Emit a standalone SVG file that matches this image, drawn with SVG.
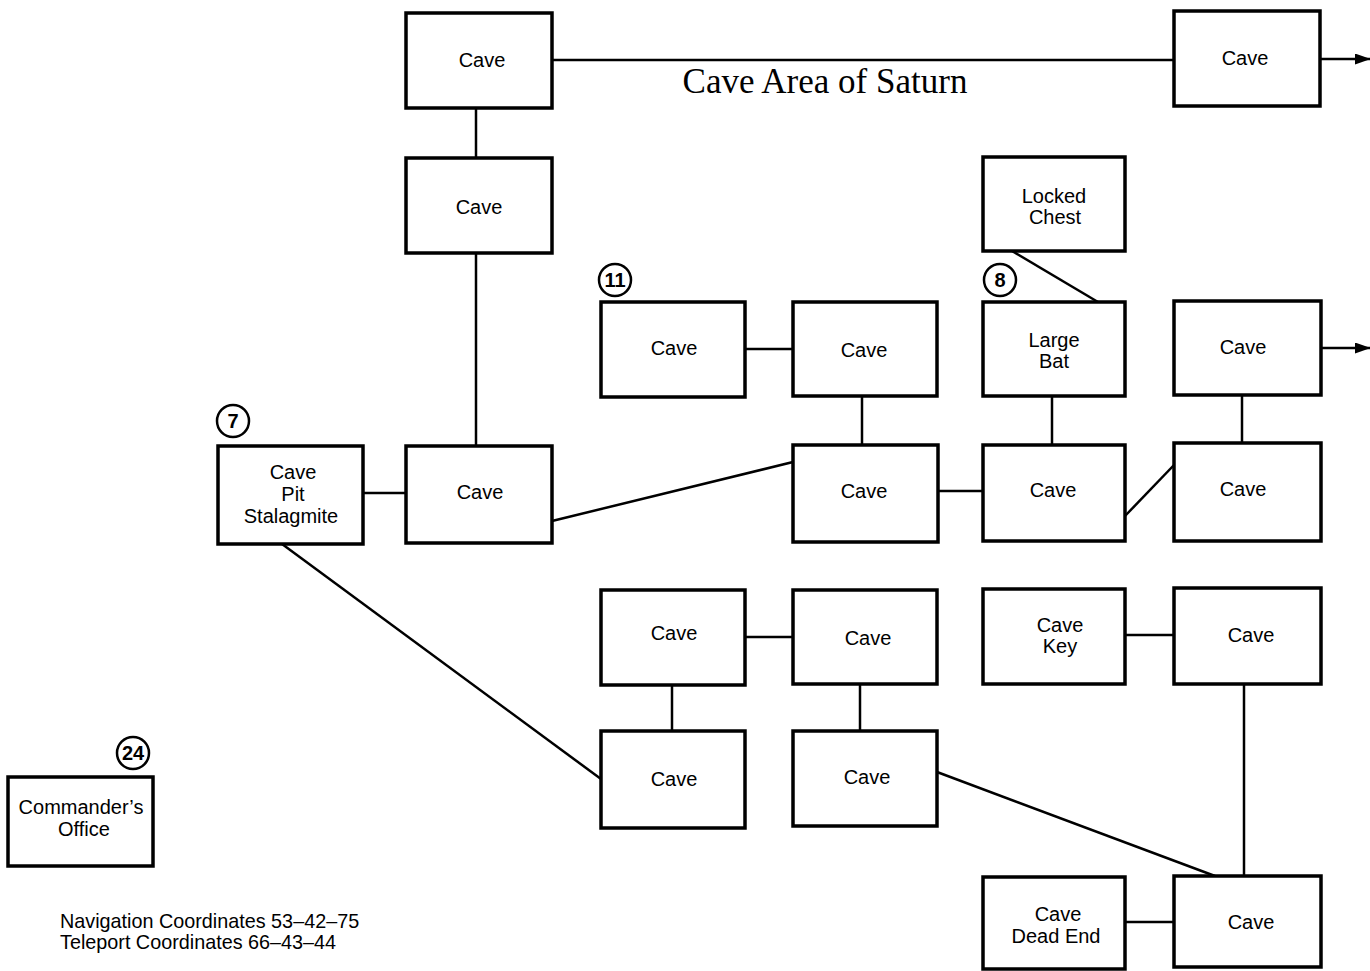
<svg xmlns="http://www.w3.org/2000/svg" width="1370" height="971" viewBox="0 0 1370 971">
<style>
.box{fill:#fff;stroke:#000;stroke-width:3.5}
.lbl{font-family:"Liberation Sans",Arial,sans-serif;font-size:20px;fill:#000;text-anchor:middle}
.con{stroke:#000;stroke-width:2.5;fill:none}
.num{fill:#fff;stroke:#000;stroke-width:2.5}
.numt{font-family:"Liberation Sans",Arial,sans-serif;font-size:20px;font-weight:bold;fill:#000;text-anchor:middle}
.foot{font-family:"Liberation Sans",Arial,sans-serif;font-size:19.8px;fill:#000}
</style>
<defs>
<marker id="arr" markerWidth="16" markerHeight="11" refX="15" refY="5.5" orient="auto" markerUnits="userSpaceOnUse" viewBox="0 0 16 11">
<path d="M0,0 L16,5.5 L0,11 z" fill="#000"/>
</marker>
</defs>
<rect width="1370" height="971" fill="#fff"/>
<g id="connectors">
<line class="con" x1="552" y1="60" x2="1174" y2="60"/>
<line class="con" x1="1320" y1="59" x2="1370" y2="59" marker-end="url(#arr)"/>
<line class="con" x1="1321" y1="348" x2="1370" y2="348" marker-end="url(#arr)"/>
<line class="con" x1="476" y1="108" x2="476" y2="158"/>
<line class="con" x1="476" y1="253" x2="476" y2="446"/>
<line class="con" x1="363" y1="493" x2="406" y2="493"/>
<line class="con" x1="552" y1="521" x2="793" y2="462"/>
<line class="con" x1="745" y1="349" x2="793" y2="349"/>
<line class="con" x1="862" y1="396" x2="862" y2="445"/>
<line class="con" x1="938" y1="491" x2="983" y2="491"/>
<line class="con" x1="1012" y1="251" x2="1098" y2="302"/>
<line class="con" x1="1052" y1="396" x2="1052" y2="445"/>
<line class="con" x1="1125" y1="516" x2="1174" y2="465"/>
<line class="con" x1="1242" y1="395" x2="1242" y2="443"/>
<line class="con" x1="745" y1="637" x2="793" y2="637"/>
<line class="con" x1="672" y1="685" x2="672" y2="731"/>
<line class="con" x1="860" y1="684" x2="860" y2="731"/>
<line class="con" x1="282" y1="544" x2="601" y2="779"/>
<line class="con" x1="937" y1="772" x2="1215" y2="876"/>
<line class="con" x1="1125" y1="635" x2="1174" y2="635"/>
<line class="con" x1="1244" y1="684" x2="1244" y2="876"/>
<line class="con" x1="1125" y1="922" x2="1174" y2="922"/>
</g>
<text x="825" y="93" font-family="Liberation Serif,'Times New Roman',serif" font-size="35" text-anchor="middle">Cave Area of Saturn</text>
<g id="n1"><rect class="box" x="406" y="13" width="146" height="95"/><text class="lbl" x="482" y="67">Cave</text></g>
<g id="n2"><rect class="box" x="1174" y="11" width="146" height="95"/><text class="lbl" x="1245" y="65">Cave</text></g>
<g id="n3"><rect class="box" x="406" y="158" width="146" height="95"/><text class="lbl" x="479" y="214">Cave</text></g>
<g id="n4"><rect class="box" x="983" y="157" width="142" height="94"/><text class="lbl" x="1054" y="203">Locked</text><text class="lbl" x="1055" y="224">Chest</text></g>
<g id="n5"><rect class="box" x="601" y="302" width="144" height="95"/><text class="lbl" x="674" y="355">Cave</text></g>
<g id="n6"><rect class="box" x="793" y="302" width="144" height="94"/><text class="lbl" x="864" y="357">Cave</text></g>
<g id="n7"><rect class="box" x="983" y="302" width="142" height="94"/><text class="lbl" x="1054" y="347">Large</text><text class="lbl" x="1054" y="368">Bat</text></g>
<g id="n8"><rect class="box" x="1174" y="301" width="147" height="94"/><text class="lbl" x="1243" y="354">Cave</text></g>
<g id="n9"><rect class="box" x="218" y="446" width="145" height="98"/><text class="lbl" x="293" y="479">Cave</text><text class="lbl" x="293" y="501">Pit</text><text class="lbl" x="291" y="523">Stalagmite</text></g>
<g id="n10"><rect class="box" x="406" y="446" width="146" height="97"/><text class="lbl" x="480" y="499">Cave</text></g>
<g id="n11"><rect class="box" x="793" y="445" width="145" height="97"/><text class="lbl" x="864" y="498">Cave</text></g>
<g id="n12"><rect class="box" x="983" y="445" width="142" height="96"/><text class="lbl" x="1053" y="497">Cave</text></g>
<g id="n13"><rect class="box" x="1174" y="443" width="147" height="98"/><text class="lbl" x="1243" y="496">Cave</text></g>
<g id="n14"><rect class="box" x="601" y="590" width="144" height="95"/><text class="lbl" x="674" y="640">Cave</text></g>
<g id="n15"><rect class="box" x="793" y="590" width="144" height="94"/><text class="lbl" x="868" y="645">Cave</text></g>
<g id="n16"><rect class="box" x="983" y="589" width="142" height="95"/><text class="lbl" x="1060" y="632">Cave</text><text class="lbl" x="1060" y="653">Key</text></g>
<g id="n17"><rect class="box" x="1174" y="588" width="147" height="96"/><text class="lbl" x="1251" y="642">Cave</text></g>
<g id="n18"><rect class="box" x="601" y="731" width="144" height="97"/><text class="lbl" x="674" y="786">Cave</text></g>
<g id="n19"><rect class="box" x="793" y="731" width="144" height="95"/><text class="lbl" x="867" y="784">Cave</text></g>
<g id="n20"><rect class="box" x="8" y="777" width="145" height="89"/><text class="lbl" x="81" y="814">Commander’s</text><text class="lbl" x="84" y="836">Office</text></g>
<g id="n21"><rect class="box" x="983" y="877" width="142" height="92"/><text class="lbl" x="1058" y="921">Cave</text><text class="lbl" x="1056" y="943">Dead End</text></g>
<g id="n22"><rect class="box" x="1174" y="876" width="147" height="91"/><text class="lbl" x="1251" y="929">Cave</text></g>
<g id="markers">
<g id="m11"><circle class="num" cx="615" cy="280" r="16"/><text class="numt" x="615" y="287">11</text></g>
<g id="m7"><circle class="num" cx="233" cy="421" r="16"/><text class="numt" x="233" y="428">7</text></g>
<g id="m8"><circle class="num" cx="1000" cy="280" r="16"/><text class="numt" x="1000" y="287">8</text></g>
<g id="m24"><circle class="num" cx="133" cy="753" r="16"/><text class="numt" x="133" y="760">24</text></g>
</g>
<text class="foot" x="60" y="928">Navigation Coordinates 53–42–75</text>
<text class="foot" x="60" y="949">Teleport Coordinates 66–43–44</text>
</svg>
